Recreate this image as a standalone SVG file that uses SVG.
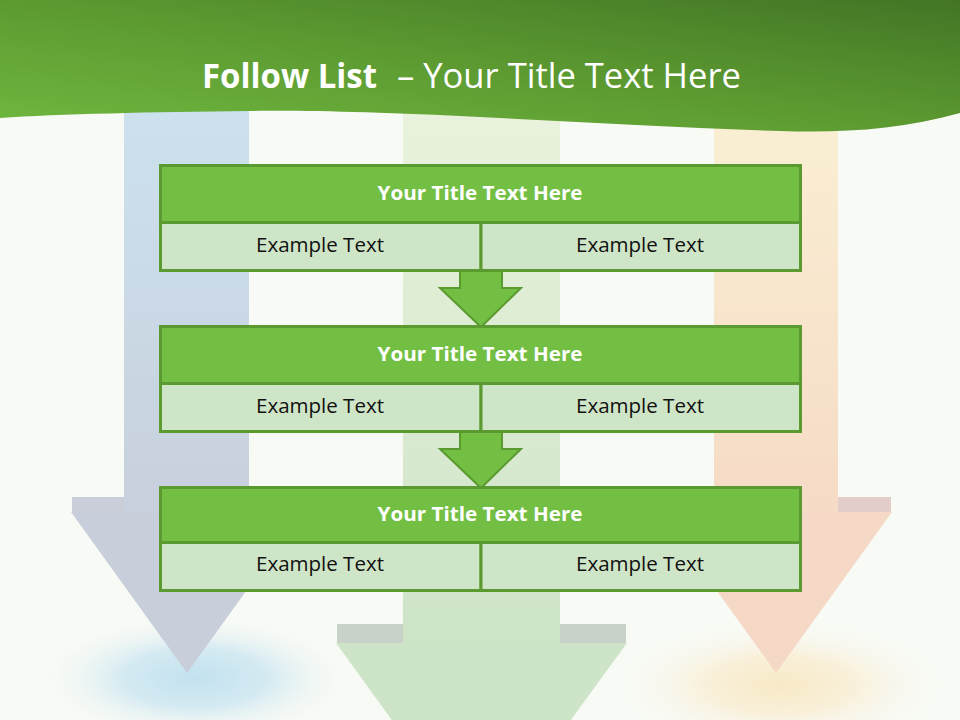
<svg xmlns="http://www.w3.org/2000/svg" width="960" height="720" viewBox="0 0 960 720">
<defs>
<linearGradient id="hdr" x1="0" y1="1" x2="1" y2="0">
<stop offset="0" stop-color="#70b83f"/>
<stop offset="0.5" stop-color="#5c9a31"/>
<stop offset="1" stop-color="#437525"/>
</linearGradient>
<linearGradient id="gBlue" x1="0" y1="0" x2="0" y2="1">
<stop offset="0" stop-color="#cce2ee"/>
<stop offset="1" stop-color="#c8d1dd"/>
</linearGradient>
<linearGradient id="gGreen" x1="0" y1="0" x2="0" y2="1">
<stop offset="0" stop-color="#eaf2dd"/>
<stop offset="1" stop-color="#cde4c7"/>
</linearGradient>
<linearGradient id="gOrange" x1="0" y1="0" x2="0" y2="1">
<stop offset="0" stop-color="#faf0d3"/>
<stop offset="1" stop-color="#f6dbc6"/>
</linearGradient>
<radialGradient id="glowB">
<stop offset="0" stop-color="#c2e1ef"/>
<stop offset="0.45" stop-color="#d4eaf2"/>
<stop offset="1" stop-color="#f8faf5" stop-opacity="0"/>
</radialGradient>
<radialGradient id="glowO">
<stop offset="0" stop-color="#f8eac6"/>
<stop offset="0.45" stop-color="#f9f0da"/>
<stop offset="1" stop-color="#f8faf5" stop-opacity="0"/>
</radialGradient>
<style>
.hd{fill:#72bf44;stroke:#5b9a31;stroke-width:3}
.cl{fill:#cfe5c7;stroke:#5b9a31;stroke-width:3}
.con{fill:#72bf44;stroke:#5b9a31;stroke-width:2;stroke-linejoin:miter}
.ht{font-family:"Open Sans","Noto Sans",sans-serif;font-weight:bold;font-size:20px;fill:#ffffff;text-anchor:middle}
.ct{font-family:"Open Sans","Noto Sans",sans-serif;font-size:20px;fill:#111111;text-anchor:middle}
</style>
</defs>
<rect width="960" height="720" fill="#f8faf5"/>
<ellipse cx="195" cy="678" rx="160" ry="65" fill="url(#glowB)"/>
<ellipse cx="780" cy="685" rx="165" ry="65" fill="url(#glowO)"/>
<g id="bgArrows">
<rect x="124" y="100" width="125" height="400" fill="url(#gBlue)"/>
<rect x="72" y="497" width="52" height="16" fill="#c9ced9"/>
<rect x="249" y="497" width="52" height="16" fill="#c9ced9"/>
<polygon points="71,512 303,512 187,673" fill="#c8cfdb"/>
<rect x="124" y="497" width="125" height="16" fill="#c8d1dd"/>
<rect x="403" y="100" width="157" height="545" fill="url(#gGreen)"/>
<rect x="337" y="624" width="66" height="19" fill="#c9d2c8"/>
<rect x="560" y="624" width="66" height="19" fill="#c9d2c8"/>
<polygon points="336,643 627,643 481,843" fill="#cde4c8"/>
<rect x="714" y="100" width="124" height="400" fill="url(#gOrange)"/>
<rect x="661" y="497" width="53" height="16" fill="#e3cdc8"/>
<rect x="838" y="497" width="53" height="16" fill="#e3cdc8"/>
<polygon points="660,512 892,512 776,673" fill="#f5d9c6"/>
<rect x="714" y="497" width="124" height="16" fill="#f6dbc6"/>
</g>
<path d="M0,0 H960 V113 C900,130 840,133 780,131 C680,128 580,122 480,117 C380,112 300,110 250,111 C150,112 60,114 0,118 Z" fill="url(#hdr)"/>
<g font-family="Open Sans, Noto Sans, sans-serif" font-size="34" fill="#ffffff">
<text x="202" y="88" font-weight="bold" textLength="175" lengthAdjust="spacingAndGlyphs">Follow List</text>
<text x="397" y="88" textLength="344" lengthAdjust="spacingAndGlyphs">– Your Title Text Here</text>
</g>
<g id="connectors">
<polygon class="con" points="460,271 502,271 502,288 521,288 481,327 440,288 460,288"/>
<polygon class="con" points="460,432 502,432 502,449 521,449 481,488 440,449 460,449"/>
</g>
<g id="node1">
<rect class="hd" x="160.5" y="165.5" width="640" height="57"/>
<rect class="cl" x="160.5" y="222.5" width="320.5" height="48"/>
<rect class="cl" x="481" y="222.5" width="319.5" height="48"/>
<text class="ht" x="480" y="200" textLength="205" lengthAdjust="spacingAndGlyphs">Your Title Text Here</text>
<text class="ct" x="320" y="252" textLength="128" lengthAdjust="spacingAndGlyphs">Example Text</text>
<text class="ct" x="640" y="252" textLength="128" lengthAdjust="spacingAndGlyphs">Example Text</text>
</g>
<g id="node2">
<rect class="hd" x="160.5" y="326.5" width="640" height="57"/>
<rect class="cl" x="160.5" y="383.5" width="320.5" height="48"/>
<rect class="cl" x="481" y="383.5" width="319.5" height="48"/>
<text class="ht" x="480" y="361" textLength="205" lengthAdjust="spacingAndGlyphs">Your Title Text Here</text>
<text class="ct" x="320" y="413" textLength="128" lengthAdjust="spacingAndGlyphs">Example Text</text>
<text class="ct" x="640" y="413" textLength="128" lengthAdjust="spacingAndGlyphs">Example Text</text>
</g>
<g id="node3">
<rect class="hd" x="160.5" y="487.5" width="640" height="55"/>
<rect class="cl" x="160.5" y="542.5" width="320.5" height="48"/>
<rect class="cl" x="481" y="542.5" width="319.5" height="48"/>
<text class="ht" x="480" y="521" textLength="205" lengthAdjust="spacingAndGlyphs">Your Title Text Here</text>
<text class="ct" x="320" y="571" textLength="128" lengthAdjust="spacingAndGlyphs">Example Text</text>
<text class="ct" x="640" y="571" textLength="128" lengthAdjust="spacingAndGlyphs">Example Text</text>
</g>
</svg>
